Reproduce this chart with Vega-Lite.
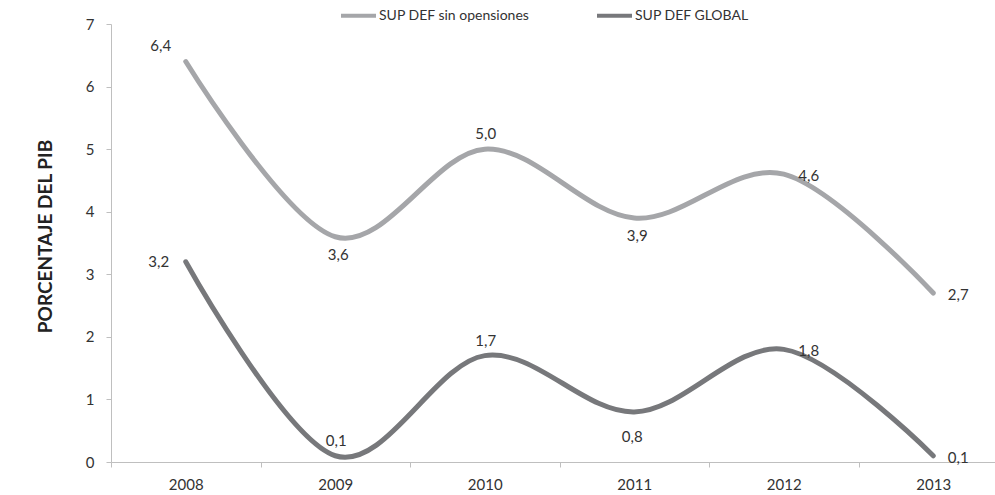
{
  "$schema": "https://vega.github.io/schema/vega-lite/v6.json",
  "autosize": "none",
  "width": 884,
  "height": 438,
  "padding": {"left": 111, "top": 24, "right": 0, "bottom": 33},
  "background": "white",
  "config": {
    "view": {"stroke": null},
    "font": "Lato",
    "text": {"font": "Lato", "fontSize": 15, "color": "#333333"}
  },
  "data": {
    "values": [
      {"year": "2008", "serie": "SUP DEF sin opensiones", "value": 6.4},
      {"year": "2009", "serie": "SUP DEF sin opensiones", "value": 3.6},
      {"year": "2010", "serie": "SUP DEF sin opensiones", "value": 5.0},
      {"year": "2011", "serie": "SUP DEF sin opensiones", "value": 3.9},
      {"year": "2012", "serie": "SUP DEF sin opensiones", "value": 4.6},
      {"year": "2013", "serie": "SUP DEF sin opensiones", "value": 2.7},
      {"year": "2008", "serie": "SUP DEF GLOBAL", "value": 3.2},
      {"year": "2009", "serie": "SUP DEF GLOBAL", "value": 0.1},
      {"year": "2010", "serie": "SUP DEF GLOBAL", "value": 1.7},
      {"year": "2011", "serie": "SUP DEF GLOBAL", "value": 0.8},
      {"year": "2012", "serie": "SUP DEF GLOBAL", "value": 1.8},
      {"year": "2013", "serie": "SUP DEF GLOBAL", "value": 0.1}
    ]
  },
  "transform": [
    {"calculate": "replace(format(datum.value, '.1f'), '.', ',')", "as": "label"}
  ],
  "encoding": {
    "x": {
      "field": "year", "type": "ordinal",
      "scale": {"type": "band", "range": [0, 897], "paddingInner": 0, "paddingOuter": 0},
      "axis": {
        "title": null, "labelAngle": 0, "tickBand": "extent",
        "domainColor": "#bfbfbf", "tickColor": "#bfbfbf", "tickSize": 5,
        "labelColor": "#333333", "labelFontSize": 15, "labelPadding": 10,
        "labelFont": "Lato", "grid": false
      }
    },
    "y": {
      "field": "value", "type": "quantitative",
      "scale": {"domain": [0, 7], "nice": false},
      "axis": {
        "title": "PORCENTAJE DEL PIB", "values": [0, 1, 2, 3, 4, 5, 6, 7],
        "labelOverlap": false,
        "domainColor": "#bfbfbf", "tickColor": "#bfbfbf", "tickSize": 5,
        "labelColor": "#333333", "labelFontSize": 15, "labelPadding": 12,
        "labelFont": "Lato", "grid": false,
        "titleFont": "Lato", "titleFontSize": 19, "titleFontWeight": "bold",
        "titleColor": "#222222", "titleAngle": 270, "titleX": -66, "titleY": 212,
        "titleAlign": "center", "titleBaseline": "middle"
      }
    }
  },
  "layer": [
    {
      "mark": {"type": "line", "interpolate": "cardinal", "strokeWidth": 5, "strokeCap": "round"},
      "encoding": {
        "color": {
          "field": "serie", "type": "nominal",
          "scale": {"domain": ["SUP DEF sin opensiones", "SUP DEF GLOBAL"], "range": ["#a5a6a9", "#77787b"]},
          "legend": {
            "title": null, "orient": "none", "direction": "horizontal",
            "legendX": 228, "legendY": -28,
            "symbolType": "stroke", "symbolSize": 1225, "symbolStrokeWidth": 4,
            "labelFontSize": 14, "labelColor": "#333333", "labelFont": "Lato",
            "labelOffset": 1, "columnPadding": 59, "labelLimit": 300
          }
        }
      }
    },
    {
      "transform": [{"filter": "datum.serie == 'SUP DEF sin opensiones' && datum.year == '2008'"}],
      "mark": {"type": "text", "dx": -25, "dy": -16, "baseline": "middle", "align": "center"},
      "encoding": {"text": {"field": "label"}}
    },
    {
      "transform": [{"filter": "datum.serie == 'SUP DEF GLOBAL' && datum.year == '2008'"}],
      "mark": {"type": "text", "dx": -27, "dy": 0, "baseline": "middle", "align": "center"},
      "encoding": {"text": {"field": "label"}}
    },
    {
      "transform": [{"filter": "(datum.serie == 'SUP DEF sin opensiones' && datum.year == '2010') || (datum.serie == 'SUP DEF GLOBAL' && (datum.year == '2009' || datum.year == '2010'))"}],
      "mark": {"type": "text", "dx": 1, "dy": -15, "baseline": "middle", "align": "center"},
      "encoding": {"text": {"field": "label"}}
    },
    {
      "transform": [{"filter": "datum.serie == 'SUP DEF sin opensiones' && (datum.year == '2009' || datum.year == '2011')"}],
      "mark": {"type": "text", "dx": 3, "dy": 18, "baseline": "middle", "align": "center"},
      "encoding": {"text": {"field": "label"}}
    },
    {
      "transform": [{"filter": "datum.serie == 'SUP DEF GLOBAL' && datum.year == '2011'"}],
      "mark": {"type": "text", "dx": -2, "dy": 25, "baseline": "middle", "align": "center"},
      "encoding": {"text": {"field": "label"}}
    },
    {
      "transform": [{"filter": "datum.year == '2012' || datum.year == '2013'"}],
      "mark": {"type": "text", "dx": 25, "dy": 2, "baseline": "middle", "align": "center"},
      "encoding": {"text": {"field": "label"}}
    }
  ]
}
